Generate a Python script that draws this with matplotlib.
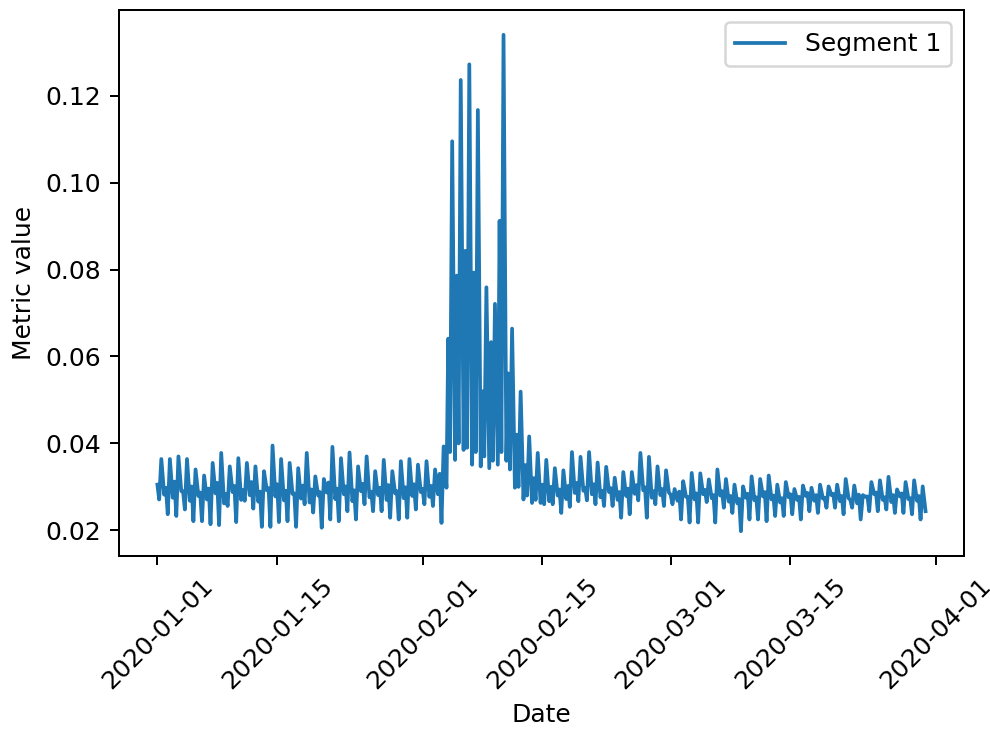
import numpy as np
import pandas as pd
import matplotlib
matplotlib.use("Agg")
import matplotlib.pyplot as plt
import matplotlib.dates as mdates

start = pd.Timestamp("2020-01-01")

# four readings per day: just after midnight, early-morning low,
# late-morning peak and evening level
sample_hours = [0, 5, 11, 19]

early = [
    0.0305, 0.0298, 0.0312, 0.0290, 0.0301, 0.0287, 0.0296, 0.0309, 0.0284, 0.0302,
    0.0293, 0.0311, 0.0289, 0.0297, 0.0306, 0.0291, 0.0285, 0.0303, 0.0294, 0.0288,
    0.0310, 0.0296, 0.0301, 0.0292, 0.0307, 0.0289, 0.0298, 0.0304, 0.0290, 0.0299,
    0.0306, 0.0295, 0.0302, 0.0330,
    0.0641, 0.0786, 0.0843, 0.0793, 0.0520, 0.0633, 0.0912, 0.0561, 0.0420, 0.0350,
    0.0320, 0.0305,
    0.0300, 0.0294, 0.0302, 0.0309, 0.0298, 0.0306, 0.0291, 0.0297, 0.0288, 0.0296,
    0.0304, 0.0299, 0.0290, 0.0295, 0.0282, 0.0289, 0.0277, 0.0285, 0.0293, 0.0281,
    0.0290, 0.0279, 0.0272, 0.0284, 0.0276, 0.0288, 0.0280, 0.0274, 0.0283, 0.0277,
    0.0286, 0.0281, 0.0275, 0.0284, 0.0279, 0.0270, 0.0282, 0.0278, 0.0287, 0.0276,
    0.0281, 0.0285, 0.0274, 0.0279,
]

low = [
    0.0271, 0.0237, 0.0233, 0.0248, 0.0221, 0.0221, 0.0214, 0.0212, 0.0256, 0.0219,
    0.0268, 0.0250, 0.0208, 0.0208, 0.0219, 0.0221, 0.0208, 0.0260, 0.0241, 0.0206,
    0.0225, 0.0221, 0.0244, 0.0225, 0.0260, 0.0244, 0.0244, 0.0229, 0.0225, 0.0229,
    0.0248, 0.0260, 0.0256, 0.0217,
    0.0380, 0.0400, 0.0390, 0.0380, 0.0370, 0.0360, 0.0380, 0.0340, 0.0300, 0.0280,
    0.0270, 0.0260,
    0.0260, 0.0240, 0.0254, 0.0267, 0.0269, 0.0260, 0.0256, 0.0256, 0.0229, 0.0237,
    0.0269, 0.0229, 0.0260, 0.0256, 0.0260, 0.0225, 0.0218, 0.0218, 0.0265, 0.0218,
    0.0252, 0.0240, 0.0198, 0.0225, 0.0225, 0.0221, 0.0233, 0.0233, 0.0237, 0.0225,
    0.0244, 0.0240, 0.0252, 0.0252, 0.0237, 0.0252, 0.0225, 0.0244, 0.0244, 0.0248,
    0.0240, 0.0240, 0.0237, 0.0225,
]

peak = [
    0.0364, 0.0364, 0.0370, 0.0364, 0.0340, 0.0326, 0.0355, 0.0378, 0.0347, 0.0366,
    0.0355, 0.0347, 0.0336, 0.0395, 0.0364, 0.0355, 0.0343, 0.0378, 0.0324, 0.0318,
    0.0392, 0.0366, 0.0379, 0.0347, 0.0370, 0.0336, 0.0362, 0.0336, 0.0359, 0.0364,
    0.0351, 0.0359, 0.0340, 0.0393,
    0.1095, 0.1236, 0.1272, 0.1167, 0.0759, 0.0721, 0.1340, 0.0664, 0.0519, 0.0416,
    0.0378, 0.0362,
    0.0343, 0.0338, 0.0380, 0.0369, 0.0380, 0.0356, 0.0346, 0.0321, 0.0334, 0.0334,
    0.0378, 0.0369, 0.0347, 0.0338, 0.0295, 0.0313, 0.0332, 0.0331, 0.0317, 0.0340,
    0.0318, 0.0305, 0.0301, 0.0324, 0.0318, 0.0326, 0.0305, 0.0311, 0.0295, 0.0303,
    0.0298, 0.0305, 0.0301, 0.0305, 0.0318, 0.0303, 0.0281, 0.0311, 0.0315, 0.0323,
    0.0294, 0.0311, 0.0315, 0.0301,
]

late = [
    0.0282, 0.0275, 0.0290, 0.0268, 0.0279, 0.0271, 0.0285, 0.0262, 0.0288, 0.0270,
    0.0281, 0.0266, 0.0292, 0.0278, 0.0269, 0.0284, 0.0273, 0.0264, 0.0280, 0.0287,
    0.0272, 0.0283, 0.0267, 0.0290, 0.0276, 0.0281, 0.0270, 0.0285, 0.0274, 0.0279,
    0.0288, 0.0277, 0.0283, 0.0298,
    0.0362, 0.0385, 0.0351, 0.0347, 0.0343, 0.0351, 0.0360, 0.0298, 0.0271, 0.0263,
    0.0263, 0.0267,
    0.0280, 0.0272, 0.0286, 0.0291, 0.0283, 0.0276, 0.0288, 0.0270, 0.0279, 0.0284,
    0.0292, 0.0275, 0.0281, 0.0287, 0.0268, 0.0277, 0.0271, 0.0283, 0.0274, 0.0280,
    0.0266, 0.0262, 0.0275, 0.0269, 0.0278, 0.0271, 0.0264, 0.0276, 0.0270, 0.0279,
    0.0268, 0.0273, 0.0281, 0.0267, 0.0274, 0.0262, 0.0277, 0.0283, 0.0270, 0.0265,
    0.0278, 0.0272, 0.0268, 0.0244,
]

ndays = len(peak)
times = []
values = []
for d in range(ndays):
    day = start + pd.Timedelta(days=d)
    for h, v in zip(sample_hours, (early[d], low[d], peak[d], late[d])):
        times.append(day + pd.Timedelta(hours=h))
        values.append(v)

s = pd.Series(values, index=pd.DatetimeIndex(times))

DPI = 180
fig = plt.figure(figsize=(990 / DPI, 729 / DPI), dpi=DPI)
ax = fig.add_axes([0.1202, 0.2373, 0.8535, 0.749])
ax.plot(s.index, s.values, color="#1f77b4", lw=1.5, label="Segment 1")

ticks = pd.to_datetime(["2020-01-01", "2020-01-15", "2020-02-01", "2020-02-15",
                        "2020-03-01", "2020-03-15", "2020-04-01"])
ax.set_xticks(ticks)
ax.xaxis.set_major_formatter(mdates.DateFormatter("%Y-%m-%d"))
plt.setp(ax.get_xticklabels(), rotation=45)
ax.set_xlabel("Date")
ax.set_ylabel("Metric value")
ax.legend(loc="upper right")

fig.savefig("out.png", dpi=DPI)
